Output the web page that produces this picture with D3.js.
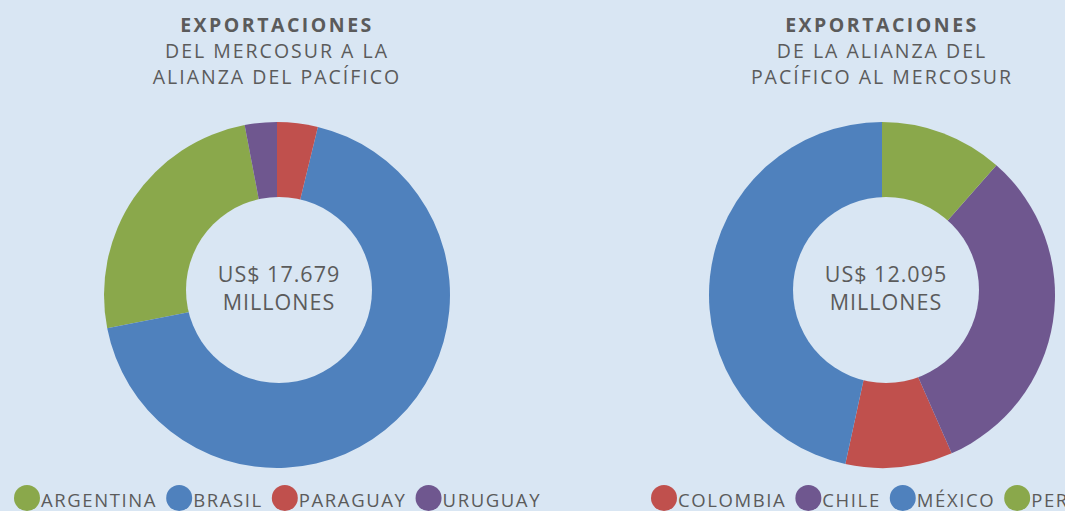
<!DOCTYPE html>
<html>
<head>
<meta charset="utf-8">
<script src="https://cdn.jsdelivr.net/npm/d3@7"></script>
<style>
  html, body { margin: 0; padding: 0; background: #d9e6f3; }
  svg { display: block; font-family: 'Open Sans', sans-serif; }
</style>
</head>
<body>
<svg></svg>
<script>
// DATA ////////////////////////////////////////////////////////////////////////
const leftTitle = ['EXPORTACIONES', 'DEL MERCOSUR A LA', 'ALIANZA DEL PACÍFICO'];
const leftCountries = ['ARGENTINA', 'BRASIL', 'PARAGUAY', 'URUGUAY'];
const leftShares = [25.1, 68.2, 3.8, 3.0];            // % of total
const leftPieOrder = ['PARAGUAY', 'BRASIL', 'ARGENTINA', 'URUGUAY']; // clockwise from 12 o'clock
const leftTotal = ['US$ 17.679', 'MILLONES'];

const rightTitle = ['EXPORTACIONES', 'DE LA ALIANZA DEL', 'PACÍFICO AL MERCOSUR'];
const rightCountries = ['COLOMBIA', 'CHILE', 'MÉXICO', 'PERU'];
const rightShares = [10.0, 31.9, 46.6, 11.5];
const rightPieOrder = ['PERU', 'CHILE', 'COLOMBIA', 'MÉXICO'];
const rightTotal = ['US$ 12.095', 'MILLONES'];

const countryColors = {
  ARGENTINA: '#8aa84b', BRASIL: '#4f81bd', PARAGUAY: '#c0504d', URUGUAY: '#6f578f',
  COLOMBIA: '#c0504d', CHILE: '#6f578f', 'MÉXICO': '#4f81bd', PERU: '#8aa84b'
};

// SET PARAMETERS //////////////////////////////////////////////////////////////
const svg = d3.select('svg').attr('width', 1065).attr('height', 511);
const bg = '#d9e6f3';
const textColor = '#5b5b5b';

const outerR = 173;
const holeR = 93;

function drawDonut(cfg) {
  const g = svg.append('g');

  // titles
  cfg.title.forEach((t, i) => {
    g.append('text')
      .attr('x', cfg.cx)
      .attr('y', 32 + i * 26)
      .attr('text-anchor', 'middle')
      .attr('font-size', 19.5)
      .attr('font-weight', i === 0 ? 700 : 400)
      .attr('letter-spacing', i === 0 ? 2.5 : 2)
      .attr('fill', textColor)
      .text(t);
  });

  // slices
  const data = cfg.countries.map((c, i) => ({ name: c, value: cfg.shares[i] }));
  const pie = d3.pie()
    .value(d => d.value)
    .sort((a, b) => cfg.order.indexOf(a.name) - cfg.order.indexOf(b.name));
  const arc = d3.arc().innerRadius(0).outerRadius(outerR);

  g.append('g')
    .attr('transform', `translate(${cfg.cx},${cfg.cy})`)
    .selectAll('path')
    .data(pie(data))
    .enter()
    .append('path')
    .attr('d', arc)
    .attr('fill', d => countryColors[d.data.name]);

  // hole (sits a little up and to the right of the pie centre)
  g.append('circle')
    .attr('cx', cfg.cx + cfg.holeDx)
    .attr('cy', cfg.cy - 5)
    .attr('r', holeR)
    .attr('fill', bg);

  cfg.total.forEach((t, i) => {
    g.append('text')
      .attr('x', cfg.cx + cfg.holeDx)
      .attr('y', 282 + i * 28)
      .attr('text-anchor', 'middle')
      .attr('font-size', 21.5)
      .attr('letter-spacing', 1)
      .attr('fill', textColor)
      .text(t);
  });

  // legend
  let x = cfg.legendX;
  cfg.countries.forEach(c => {
    g.append('circle')
      .attr('cx', x)
      .attr('cy', 498)
      .attr('r', 13)
      .attr('fill', countryColors[c]);
    const t = g.append('text')
      .attr('x', x + 14)
      .attr('y', 507)
      .attr('font-size', 18.5)
      .attr('letter-spacing', 1.6)
      .attr('fill', textColor)
      .text(c);
    x += 14 + t.node().getComputedTextLength() + 22;
  });
}

// DRAW ///////////////////////////////////////////////////////////////////////
drawDonut({
  cx: 277, cy: 295, holeDx: 2, legendX: 27,
  title: leftTitle, countries: leftCountries, shares: leftShares,
  order: leftPieOrder, total: leftTotal
});

drawDonut({
  cx: 882, cy: 295, holeDx: 4, legendX: 664,
  title: rightTitle, countries: rightCountries, shares: rightShares,
  order: rightPieOrder, total: rightTotal
});
</script>
</body>
</html>
